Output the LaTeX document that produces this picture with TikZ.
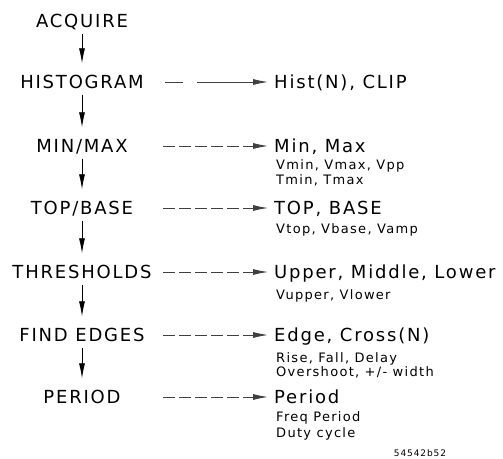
\documentclass[tikz,border=0pt]{standalone}
\usepackage{fontspec}
\setmainfont{DejaVu Sans}[LetterSpace=10]
\usetikzlibrary{positioning,arrows.meta}

\begin{document}
\begin{tikzpicture}[x=1pt, y=-1pt, >={Latex[length=15pt,width=6pt]},
    stage/.style={font=\fontsize{18}{20}\selectfont, inner sep=0pt, text height=13pt, text depth=0pt},
    result/.style={stage, anchor=west},
    detail/.style={font=\fontsize{13}{15}\selectfont, inner sep=0pt, text height=9.5pt, text depth=0pt, anchor=west},
    flow/.style={->, line width=0.8pt, shorten <=6pt, shorten >=12pt},
    feed/.style={->, line width=0.8pt, black!75, dash pattern=on 12pt off 4pt, shorten >=6pt}]
      \useasboundingbox (0,0) rectangle (503,458);
      % processing steps
      \node[stage] (acq) at (82,21) {ACQUIRE};
      \node[stage] (hist) at (82,82) {HISTOGRAM};
      \node[stage] (mm) at (82,146) {MIN/MAX};
      \node[stage] (tb) at (82,208) {TOP/BASE};
      \node[stage] (thr) at (82,272) {THRESHOLDS};
      \node[stage] (edge) at (82,335) {FIND EDGES};
      \node[stage] (per) at (82,397) {PERIOD};
      \draw[flow] (acq) -- (hist);
      \draw[flow] (hist) -- (mm);
      \draw[flow] (mm) -- (tb);
      \draw[flow] (tb) -- (thr);
      \draw[flow] (thr) -- (edge);
      \draw[flow] (edge) -- (per);
      % results of each step
      \node[result] (rhist) at (274,82) {Hist(N), CLIP};
      \node[result] (rmm) at (274,146) {Min, Max};
      \node[detail] at (276,165) {Vmin, Vmax, Vpp};
      \node[detail] at (276,180) {Tmin, Tmax};
      \node[result] (rtb) at (274,208) {TOP, BASE};
      \node[detail] at (276,229) {Vtop, Vbase, Vamp};
      \node[result] (rthr) at (274,272) {Upper, Middle, Lower};
      \node[detail] at (276,295) {Vupper, Vlower};
      \node[result] (redge) at (274,335) {Edge, Cross(N)};
      \node[detail] at (276,358) {Rise, Fall, Delay};
      \node[detail] at (276,372) {Overshoot, +/- width};
      \node[result] (rper) at (274,397) {Period};
      \node[detail] at (276,417) {Freq Period};
      \node[detail] at (276,433) {Duty cycle};
      \coordinate (fhist) at (165,82);
      \coordinate (fmm) at (163,146);
      \coordinate (ftb) at (163,208);
      \coordinate (fthr) at (163,272);
      \coordinate (fedge) at (163,335);
      \coordinate (fper) at (163,397);
      \draw[feed, dash pattern=on 18pt off 14pt on 200pt] (fhist) -- (rhist);
      \draw[feed] (fmm) -- (rmm);
      \draw[feed] (ftb) -- (rtb);
      \draw[feed] (fthr) -- (rthr);
      \draw[feed] (fedge) -- (redge);
      \draw[feed] (fper) -- (rper);
      \node[font=\fontsize{9}{10}\selectfont, inner sep=0pt] (fig) at (420,453) {54542b52};
    \end{tikzpicture}
\end{document}
